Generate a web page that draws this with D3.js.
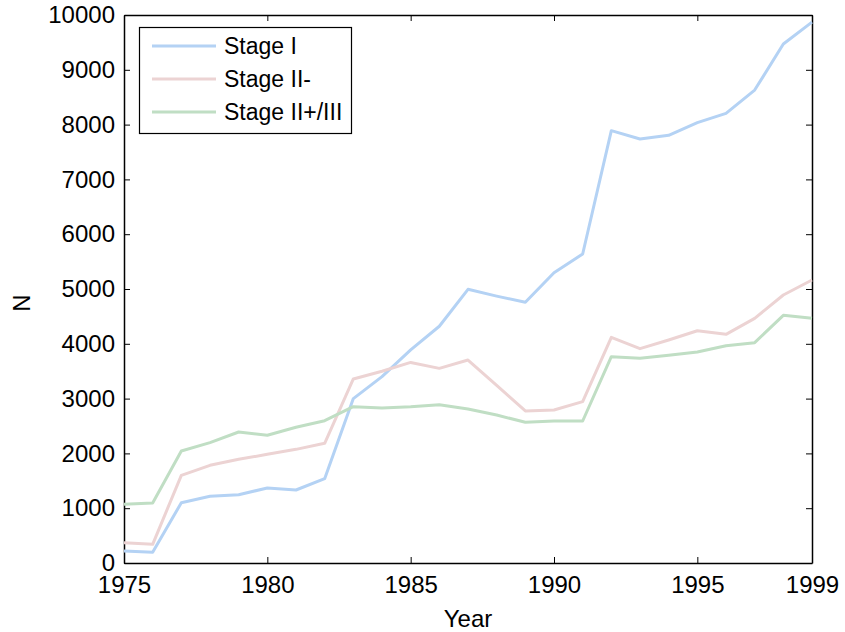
<!DOCTYPE html>
<html>
<head>
<meta charset="utf-8">
<script src="https://cdn.jsdelivr.net/npm/d3@7"></script>
<style>
  body { margin: 0; background: #fff; }
  text { font-family: "Liberation Sans", Arial, sans-serif; }
</style>
</head>
<body>
<div id="chart"></div>
<script>
var width = 845;
var height = 632;
var margin = { top: 15, bottom: 69, right: 33, left: 124 };

// data
var years = d3.range(1975, 2000);
var stageI = [220, 195, 1100, 1217, 1246, 1369, 1332, 1539, 3000, 3400, 3890, 4320, 4994, 4870, 4757,
  5298, 5639, 7889, 7737, 7804, 8035, 8205, 8630, 9470, 9870];
var stageII = [371, 341, 1600, 1783, 1892, 1983, 2074, 2184, 3358, 3500, 3660, 3552, 3704, 3240, 2774,
  2792, 2944, 4118, 3911, 4069, 4239, 4173, 4465, 4891, 5164];
var stageIII = [1071, 1095, 2044, 2196, 2391, 2330, 2476, 2597, 2852, 2828, 2852, 2889, 2810, 2700, 2567,
  2591, 2591, 3765, 3735, 3789, 3850, 3966, 4020, 4520, 4465];
var seriesNames = ["Stage I", "Stage II-", "Stage II+/III"];
var colors = ["#b4d2f4", "#ecd3d3", "#c0dec4"];
var xTicks = [1975, 1980, 1985, 1990, 1995, 1999];
var yTicks = d3.range(0, 10001, 1000);

var series = [stageI, stageII, stageIII];

var svg = d3.select("#chart").append("svg")
  .attr("width", width)
  .attr("height", height);

var x = d3.scaleLinear().domain([1975, 1999]).range([margin.left, width - margin.right]);
var y = d3.scaleLinear().domain([0, 10000]).range([height - margin.bottom, margin.top]);

// axes with inward ticks (box style)
var tickLen = 6;
svg.append("g")
  .attr("transform", "translate(0," + (height - margin.bottom) + ")")
  .call(d3.axisBottom(x).tickValues(xTicks).tickFormat(d3.format("d")).tickSizeInner(-tickLen).tickSizeOuter(0).tickPadding(13))
  .call(g => g.selectAll("text").attr("font-size", "24px").attr("fill", "#000"));

svg.append("g")
  .attr("transform", "translate(" + margin.left + ",0)")
  .call(d3.axisLeft(y).tickValues(yTicks).tickFormat(d3.format("d")).tickSizeInner(-tickLen).tickSizeOuter(0).tickPadding(9))
  .call(g => g.selectAll("text").attr("font-size", "24px").attr("fill", "#000"));

svg.append("g")
  .attr("transform", "translate(0," + margin.top + ")")
  .call(d3.axisTop(x).tickValues(xTicks).tickFormat("").tickSizeInner(-tickLen).tickSizeOuter(0));

svg.append("g")
  .attr("transform", "translate(" + (width - margin.right) + ",0)")
  .call(d3.axisRight(y).tickValues(yTicks).tickFormat("").tickSizeInner(-tickLen).tickSizeOuter(0));

svg.selectAll(".domain").attr("stroke", "#000").attr("stroke-width", 1.5);
svg.selectAll(".tick line").attr("stroke", "#000");

// axis labels
svg.append("text")
  .attr("x", (margin.left + width - margin.right) / 2)
  .attr("y", 627)
  .attr("text-anchor", "middle")
  .attr("font-size", "24px")
  .text("Year");

svg.append("text")
  .attr("transform", "translate(30," + ((margin.top + height - margin.bottom) / 2 + 14) + ") rotate(-90)")
  .attr("text-anchor", "middle")
  .attr("font-size", "24px")
  .text("N");

// lines
var line = d3.line()
  .x((d, i) => x(years[i]))
  .y(d => y(d));

svg.append("g").attr("class", "lines")
  .selectAll("path")
  .data(series)
  .enter()
  .append("path")
  .attr("d", line)
  .attr("fill", "none")
  .attr("stroke", (d, i) => colors[i])
  .attr("stroke-width", 3)
  .attr("stroke-linejoin", "round");

// legend
var legend = svg.append("g").attr("class", "legend");
legend.append("rect")
  .attr("x", 139.5).attr("y", 27.5)
  .attr("width", 212).attr("height", 106)
  .attr("fill", "#fff").attr("stroke", "#000").attr("stroke-width", 1.2);

var items = legend.selectAll(".item")
  .data(seriesNames)
  .enter()
  .append("g")
  .attr("transform", (d, i) => "translate(0," + (46 + i * 33) + ")");

items.append("line")
  .attr("x1", 152).attr("x2", 216)
  .attr("stroke", (d, i) => colors[i])
  .attr("stroke-width", 3);

items.append("text")
  .attr("x", 224).attr("y", 8)
  .attr("font-size", "23px")
  .text(d => d);
</script>
</body>
</html>
